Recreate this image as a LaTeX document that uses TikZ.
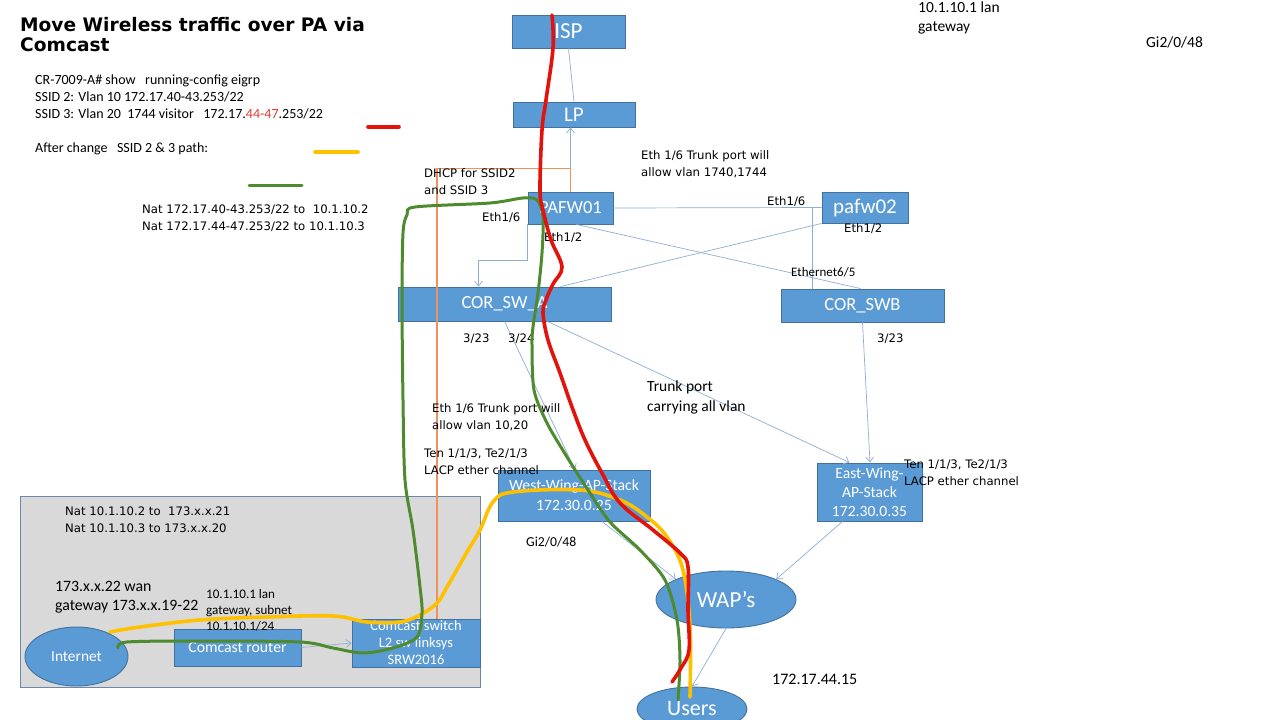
\documentclass[tikz,border=0pt]{standalone}
\usepackage{fontspec}
\setmainfont{Carlito}
\newfontfamily\dv{DejaVu Sans}
\usetikzlibrary{arrows.meta,calc,shapes.geometric}
\definecolor{boxfill}{HTML}{5B9BD5}
\definecolor{boxline}{HTML}{41719C}
\definecolor{connc}{HTML}{8EAFD3}
\definecolor{grayfill}{HTML}{D9D9D9}
\definecolor{grayline}{HTML}{6D87A6}
\definecolor{pathred}{HTML}{E3120B}
\definecolor{pathgreen}{HTML}{4E8A2E}
\definecolor{pathyellow}{HTML}{FFC000}
\definecolor{dhcporange}{HTML}{F0905A}
\definecolor{txtred}{HTML}{E03C31}
\begin{document}
\begin{tikzpicture}[x=1pt,y=-1pt,
 box/.style={draw=boxline, fill=boxfill, line width=0.9pt, text=white, inner sep=0pt, align=center},
 oval/.style={box, ellipse},
 conn/.style={draw=connc, line width=0.7pt},
 arr/.style={conn, -{Straight Barb[length=5pt,width=8pt]}},
 lbl/.style={anchor=west, inner sep=0pt, align=left, font=\dv\fontsize{11.7}{17}\selectfont},
 clbl/.style={anchor=west, inner sep=0pt, align=left},
 thick path/.style={line cap=round, line join=round, line width=3.6pt},
 redp/.style={thick path, draw=pathred},
 greenp/.style={thick path, draw=pathgreen, line width=3pt},
 yellowp/.style={thick path, draw=pathyellow},
 orangep/.style={draw=dhcporange, line width=1.1pt}
]
\useasboundingbox[fill=white] (0,0) rectangle (1280,720);

% Comcast area
\node[draw=grayline, fill=grayfill, line width=1pt, minimum width=460pt, minimum height=191pt, inner sep=0pt] (area) at (250,591.5) {};

% nodes
\node[box, minimum width=113pt, minimum height=33pt, font=\fontsize{23}{27}\selectfont] (ISP) at (568.5,31.5) {ISP};
\node[box, minimum width=122pt, minimum height=25pt, font=\fontsize{21}{25}\selectfont] (LP) at (574,114.5) {LP};
\node[box, minimum width=85pt, minimum height=32pt, font=\fontsize{18.5}{22}\selectfont] (PAFW01) at (570.5,208) {PAFW01};
\node[box, minimum width=86pt, minimum height=31pt, font=\fontsize{21}{25}\selectfont] (pafw02) at (865,207.5) {pafw02};
\node[box, minimum width=213pt, minimum height=34pt, font=\fontsize{18.5}{22}\selectfont] (CORA) at (504.5,304) {COR\_SW\_A};
\node[box, minimum width=163pt, minimum height=33pt, font=\fontsize{18.5}{22}\selectfont] (CORB) at (862.5,305.5) {COR\_SWB};
\node[box, minimum width=152pt, minimum height=51pt, font=\fontsize{15.7}{20}\selectfont] (West) at (574,495.5) {West-Wing-AP-Stack\\172.30.0.25};
\node[box, minimum width=105pt, minimum height=58pt, font=\fontsize{15.6}{19}\selectfont] (East) at (869.5,492) {East-Wing-\\AP-Stack\\172.30.0.35};
\node[oval, minimum width=140pt, minimum height=57pt, font=\fontsize{23}{27}\selectfont] (WAP) at (726,599.5) {WAP’s};
\node[oval, minimum width=110pt, minimum height=44pt, font=\fontsize{22}{26}\selectfont] (Users) at (692,709) {Users};
\node[oval, minimum width=103pt, minimum height=59pt, font=\fontsize{15.4}{19}\selectfont] (Internet) at (76.5,656.5) {Internet};
\node[box, minimum width=127pt, minimum height=37pt, font=\fontsize{15.7}{19}\selectfont] (router) at (237.5,647.5) {Comcast router};
\node[box, minimum width=128pt, minimum height=48pt, font=\fontsize{14.5}{17}\selectfont] (switch) at (416,643) {Comcast switch\\L2 sw linksys\\SRW2016};

% connectors
\draw[conn] (LP.north) -- (ISP.south);
\draw[arr] (PAFW01.north) -- (PAFW01.north |- LP.south);
\draw[arr] (PAFW01.south west) -- ++(0,36) -| ($(CORA.north west)+(81,0)$);
\draw[conn] (PAFW01.east) -- (pafw02.west);
\draw[conn] ($(pafw02.west)+(-9,0)$) -- ($(CORB.north west)+(32,0)$);
\draw[conn] ($(PAFW01.south)+(6,0)$) -- ($(CORB.north)+(-2,0)$);
\draw[conn] (pafw02.south west) -- ($(CORA.north)+(56,0)$);
\draw[arr] (CORA.south) -- ($(West.north)+(1,0)$);
\draw[arr] ($(CORA.south)+(43,0)$) -- ($(East.north)+(-20,0)$);
\draw[arr] (CORB.south) -- ($(East.north)+(0.5,0)$);
\draw[arr] ($(West.south)+(28,0)$) -- (WAP.158);
\draw[arr] ($(East.south)+(-27,0)$) -- (WAP.22);
\draw[arr] (WAP.south) -- (Users.north);
\draw[arr] (router.east) -- (switch.west);
\draw[orangep] ($(switch.north)+(21,0)$) |- ($(PAFW01.north)+(0,-23)$) -- (PAFW01.north);

% texts
\node[anchor=west, inner sep=0pt, align=left, font=\dv\bfseries\fontsize{18.6}{20}\selectfont] (title) at (20,35) {Move Wireless traffic over PA via\\Comcast};
\node[clbl, font=\fontsize{14}{17}\selectfont] (crblock) at (35,115) {CR-7009-A\# show\ \ \ running-config eigrp\\SSID 2: Vlan 10 172.17.40-43.253/22\\SSID 3: Vlan 20\ \ 1744 visitor\ \ \ 172.17.\textcolor{txtred}{44-47}.253/22\\[17pt]After change\ \ \ SSID 2 \& 3 path:};
\node[lbl] (nat1) at (142,218.5) {Nat 172.17.40-43.253/22 to\ \ 10.1.10.2\\Nat 172.17.44-47.253/22 to 10.1.10.3};
\node[clbl, font=\fontsize{15.5}{19}\selectfont] (gwtop) at (918,17.5) {10.1.10.1 lan\\gateway};
\node[clbl, font=\fontsize{15.5}{19}\selectfont] (gitop) at (1146,42) {Gi2/0/48};
\node[lbl] (dhcp) at (424,182) {DHCP for SSID2\\and SSID 3};
\node[lbl] (trunk1) at (641,164.5) {Eth 1/6 Trunk port will\\allow vlan 1740,1744};
\node[lbl] (e16a) at (482,218) {Eth1/6};
\node[lbl] (e12a) at (544,238) {Eth1/2};
\node[lbl] (e16b) at (767,202) {Eth1/6};
\node[lbl] (e12b) at (844,229) {Eth1/2};
\node[clbl, font=\fontsize{13}{16}\selectfont] (eth65) at (791,272) {Ethernet6/5};
\node[lbl] (p323a) at (463,339) {3/23};
\node[lbl] (p324) at (508,339) {3/24};
\node[lbl] (p323b) at (877,339) {3/23};
\node[clbl, font=\fontsize{15.5}{20}\selectfont] (trunkall) at (647,397) {Trunk port\\carrying all vlan};
\node[lbl] (trunk2) at (432,417) {Eth 1/6 Trunk port will\\allow vlan 10,20};
\node[lbl] (lacp1) at (424,461.5) {Ten 1/1/3, Te2/1/3\\LACP ether channel};
\node[lbl] (lacp2) at (904,472.5) {Ten 1/1/3, Te2/1/3\\LACP ether channel};
\node[clbl, font=\fontsize{13.7}{16}\selectfont] (gibot) at (526,542) {Gi2/0/48};
\node[clbl, font=\fontsize{16}{19}\selectfont] (ip15) at (772,679) {172.17.44.15};
\node[lbl] (nat2) at (65,520) {Nat 10.1.10.2 to\ \ 173.x.x.21\\Nat 10.1.10.3 to 173.x.x.20};
\node[clbl, font=\fontsize{15.8}{19}\selectfont] (wan) at (55,597.5) {173.x.x.22 wan\\gateway 173.x.x.19-22};
\node[clbl, font=\fontsize{13.1}{16}\selectfont] (lan) at (206,610) {10.1.10.1 lan\\gateway, subnet\\10.1.10.1/24};

% legend lines
\draw[redp] (368,127) -- (399,127);
\draw[yellowp] (315,152) -- (358,152);
\draw[greenp] (249,185) -- (302,185);

% traffic paths
\draw[yellowp] plot[smooth, tension=0.6] coordinates {(110,632) (140,627) (200,620) (267,617) (333,616) (367,622) (400,622) (420,615) (437,603) (447,587) (467,552) (480,530) (493,502) (513,492) (580,490) (620,500) (647,517) (667,537) (683,570) (690,627) (690,697)};
\draw[greenp] plot[smooth, tension=0.5] coordinates {(118,648) (127,642) (200,641) (300,642) (333,648) (363,653) (393,648) (417,637) (422,613) (420,587) (413,530) (405,480) (403,400) (402,300) (403,233) (407,215) (415,207) (490,203) (523,198) (537,200) (543,217) (542,253) (538,293) (533,327) (532,345) (534,390) (547,423) (567,457) (588,490) (610,522) (640,550) (665,580) (677,620) (680,660) (678,700)};
\draw[redp] plot[smooth, tension=0.6] coordinates {(552,15) (553,48) (546,100) (542,130) (540,190) (543,210) (551,240) (562,267) (553,284) (546,300) (543,313) (548,340) (560,373) (572,407) (585,440) (602,473) (620,503) (653,530) (680,553) (688,567) (688,610) (689,650) (681,668) (672,682)};
\end{tikzpicture}
\end{document}
